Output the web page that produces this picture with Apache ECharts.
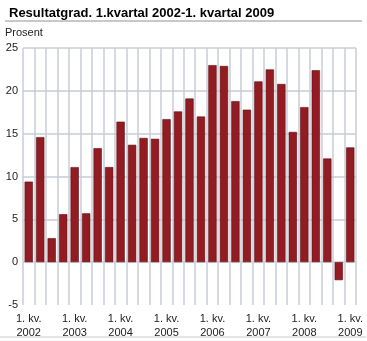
<!DOCTYPE html>
<html><head><meta charset="utf-8">
<script src="https://cdn.jsdelivr.net/npm/echarts@6/dist/echarts.min.js"></script>
<style>html,body{margin:0;padding:0;background:#fff}#c{width:367px;height:341px}</style>
</head><body><div id="c"></div>
<script>
var categories = ['2002Q1','2002Q2','2002Q3','2002Q4','2003Q1','2003Q2','2003Q3','2003Q4','2004Q1','2004Q2','2004Q3','2004Q4','2005Q1','2005Q2','2005Q3','2005Q4','2006Q1','2006Q2','2006Q3','2006Q4','2007Q1','2007Q2','2007Q3','2007Q4','2008Q1','2008Q2','2008Q3','2008Q4','2009Q1'];
var values = [9.4, 14.6, 2.8, 5.6, 11.1, 5.7, 13.3, 11.1, 16.4, 13.7, 14.5, 14.4, 16.7, 17.6, 19.1, 17.0, 23.0, 22.9, 18.8, 17.8, 21.1, 22.5, 20.8, 15.2, 18.1, 22.4, 12.1, -2.1, 13.4];
var xTickLabels = {'2002Q1':'1. kv.\n2002','2003Q1':'1. kv.\n2003','2004Q1':'1. kv.\n2004','2005Q1':'1. kv.\n2005','2006Q1':'1. kv.\n2006','2007Q1':'1. kv.\n2007','2008Q1':'1. kv.\n2008','2009Q1':'1. kv.\n2009'};
var yTicks = [-5, 0, 5, 10, 15, 20, 25];
var titleText = 'Resultatgrad. 1.kvartal 2002-1. kvartal 2009';
var unitText = 'Prosent';

var chart = echarts.init(document.getElementById('c'), null, {renderer:'canvas'});
chart.setOption({
  animation: false,
  textStyle: {fontFamily: 'Liberation Sans, Arial, sans-serif'},
  title: {text: titleText, left: 4, top: 2, textStyle: {fontSize: 13, fontWeight: 'bold', color: '#000', fontFamily: 'Liberation Sans, Arial, sans-serif'}},
  graphic: [
    {type:'line', shape:{x1:5,y1:21,x2:362,y2:21}, style:{stroke:'#c8c8c8', lineWidth:2}},
    {type:'text', left:5, top:27, style:{text:unitText, fontSize:11, fill:'#222', fontFamily:'Liberation Sans, Arial, sans-serif'}},
    {type:'line', shape:{x1:0,y1:337,x2:366,y2:337}, style:{stroke:'#c8c8c8', lineWidth:1}}
  ],
  grid: {left: 23, right: 11, top: 48, bottom: 36, containLabel: false},
  xAxis: {
    type: 'category', data: categories, boundaryGap: true,
    axisLine: {show: false}, axisTick: {show: false},
    splitLine: {show: true, interval: 0, lineStyle: {color: '#c8ccd4', width: 1.5}},
    axisLabel: {interval: 0, margin: 7, fontSize: 11, color: '#222', lineHeight: 14,
      formatter: function(v){ return xTickLabels[v] || ''; }}
  },
  yAxis: {
    type: 'value', min: yTicks[0], max: yTicks[yTicks.length-1], interval: 5,
    axisLine: {show: false}, axisTick: {show: false},
    splitLine: {show: true, showMinLine: false, showMaxLine: true, lineStyle: {color: '#c8ccd4', width: 1.5, type: 'solid'}},
    axisLabel: {fontSize: 11, color: '#222', margin: 5}
  },
  series: [{
    type: 'bar', data: values, barWidth: '72%',
    itemStyle: {color: '#931b22', borderColor: '#5a1015', borderWidth: 0.6}
  }]
});
</script></body></html>
